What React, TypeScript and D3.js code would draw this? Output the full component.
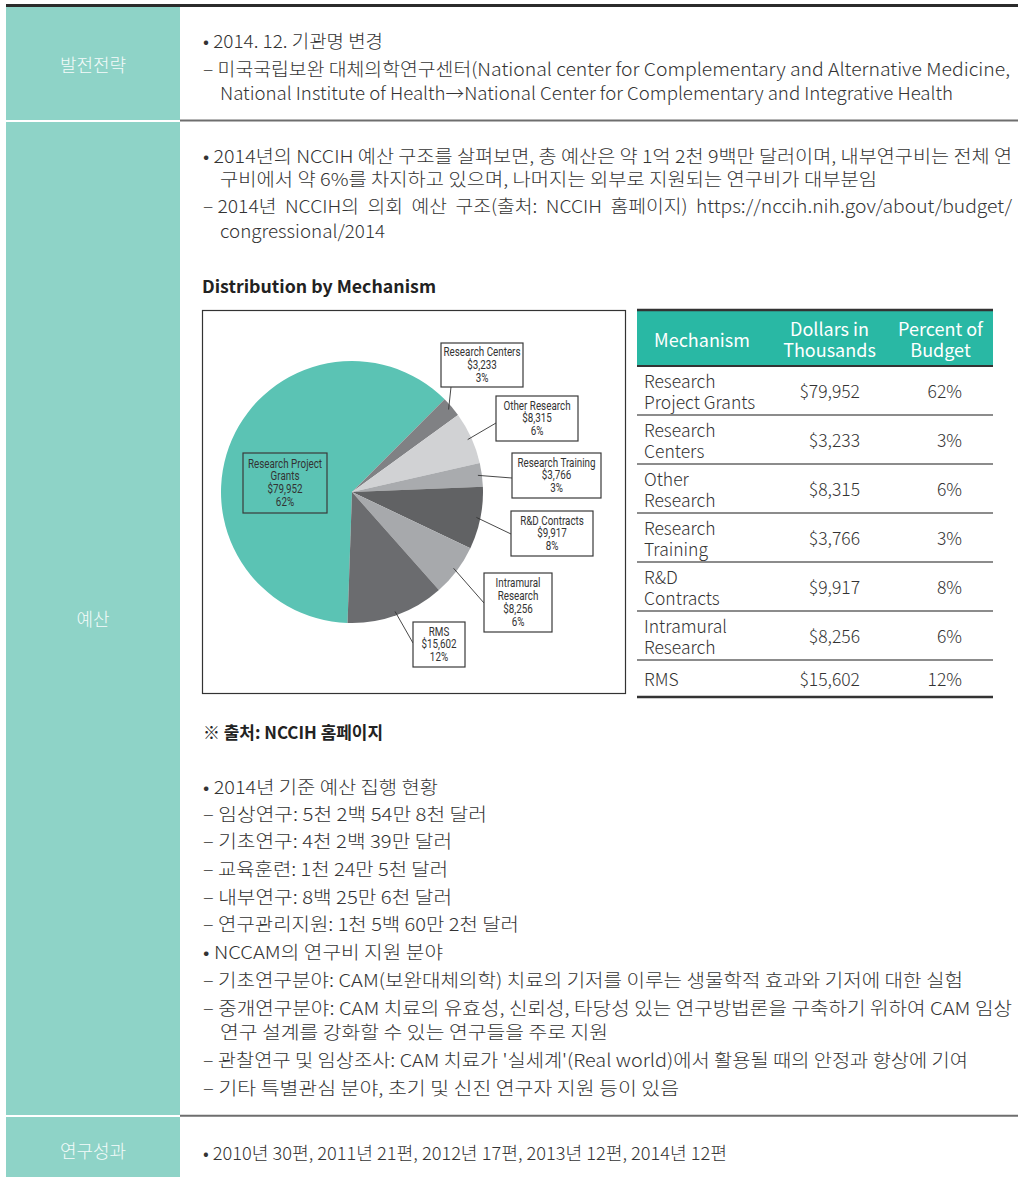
import React from "react";
import * as d3 from "d3";

// budget by mechanism (dollars in thousands)
const mechanisms = [
  "Research Project Grants",
  "Research Centers",
  "Other Research",
  "Research Training",
  "R&D Contracts",
  "Intramural Research",
  "RMS",
];
const dollars = [79952, 3233, 8315, 3766, 9917, 8256, 15602];
const percents = [62, 3, 6, 3, 8, 6, 12];
const tableLabels = [
  ["Research", "Project Grants"],
  ["Research", "Centers"],
  ["Other", "Research"],
  ["Research", "Training"],
  ["R&D", "Contracts"],
  ["Intramural", "Research"],
  ["RMS"],
];
const pieLabels = [
  ["Research Project", "Grants"],
  ["Research Centers"],
  ["Other Research"],
  ["Research Training"],
  ["R&D Contracts"],
  ["Intramural", "Research"],
  ["RMS"],
];
const sliceColors = ["#5bc3b4", "#808184", "#d1d2d4", "#a9abae", "#616264", "#a7a9ac", "#6b6c6f"];
const tableHeader = [["Mechanism"], ["Dollars in", "Thousands"], ["Percent of", "Budget"]];

// callout boxes (page coords); leader ends on the box edge
const callouts = [
  { x: 243, y: 453, w: 84, h: 60, ax: null, ay: null },
  { x: 441, y: 343, w: 82, h: 44, ax: 451, ay: 387 },
  { x: 496, y: 396, w: 82, h: 45, ax: 496, ay: 423 },
  { x: 512, y: 453, w: 89, h: 45, ax: 512, ay: 478 },
  { x: 511, y: 511, w: 82, h: 45, ax: 511, ay: 534 },
  { x: 484, y: 573, w: 68, h: 59, ax: 484, ay: 603 },
  { x: 413, y: 622, w: 52, h: 45, ax: 413, ay: 643 },
];

const sectionNames = ["발전전략", "예산", "연구성과"];

// text lines: [text, x, y-center, width, bold]
const bodyLines: [string, number, number, number, boolean][] = [
  ["• 2014. 12. 기관명 변경", 203, 40, 180, false],
  ["– 미국국립보완 대체의학연구센터(National center for Complementary and Alternative Medicine,", 203, 68, 807, false],
  ["National Institute of Health→National Center for Complementary and Integrative Health", 220, 92, 733, false],
  ["• 2014년의 NCCIH 예산 구조를 살펴보면, 총 예산은 약 1억 2천 9백만 달러이며, 내부연구비는 전체 연", 203, 155, 809, false],
  ["구비에서 약 6%를 차지하고 있으며, 나머지는 외부로 지원되는 연구비가 대부분임", 220, 178, 657, false],
  ["– 2014년  NCCIH의  의회  예산  구조(출처:  NCCIH  홈페이지)  https://nccih.nih.gov/about/budget/", 203, 205, 809, false],
  ["congressional/2014", 220, 230, 165, false],
  ["Distribution by Mechanism", 202, 285, 234, true],
  ["※ 출처: NCCIH 홈페이지", 203, 731, 180, true],
  ["• 2014년 기준 예산 집행 현황", 203, 786, 235, false],
  ["– 임상연구: 5천 2백 54만 8천 달러", 203, 813, 284, false],
  ["– 기초연구: 4천 2백 39만 달러", 203, 840, 249, false],
  ["– 교육훈련: 1천 24만 5천 달러", 203, 868, 245, false],
  ["– 내부연구: 8백 25만 6천 달러", 203, 896, 249, false],
  ["– 연구관리지원: 1천 5백 60만 2천 달러", 203, 923, 316, false],
  ["• NCCAM의 연구비 지원 분야", 203, 951, 240, false],
  ["– 기초연구분야: CAM(보완대체의학) 치료의 기저를 이루는 생물학적 효과와 기저에 대한 실험", 203, 979, 760, false],
  ["– 중개연구분야: CAM 치료의 유효성, 신뢰성, 타당성 있는 연구방법론을 구축하기 위하여 CAM 임상", 203, 1007, 809, false],
  ["연구 설계를 강화할 수 있는 연구들을 주로 지원", 220, 1031, 388, false],
  ["– 관찰연구 및 임상조사: CAM 치료가 '실세계'(Real world)에서 활용될 때의 안정과 향상에 기여", 203, 1059, 765, false],
  ["– 기타 특별관심 분야, 초기 및 신진 연구자 지원 등이 있음", 203, 1087, 476, false],
  ["• 2010년 30편, 2011년 21편, 2012년 17편, 2013년 12편, 2014년 12편", 203, 1152, 524, false],
];

const KR = "'Noto Sans CJK KR', 'Noto Sans', sans-serif";
const COND = "Roboto, 'Liberation Sans', sans-serif";

const PieChart = () => {
  const cx = 352, cy = 492, r = 131;
  const total = d3.sum(dollars);
  const start = Math.PI / 4 - (2 * Math.PI * dollars[0]) / total;
  const pie = d3.pie<number>().sort(null).startAngle(start).endAngle(start + 2 * Math.PI);
  const arcs = pie(dollars);
  const arc = d3.arc<d3.PieArcDatum<number>>().innerRadius(0).outerRadius(r);
  const fmt = d3.format("$,");
  return (
    <g>
      <rect x={202.5} y={310.5} width={423} height={383} fill="none" stroke="#333" strokeWidth={1.2} />
      <g transform={`translate(${cx},${cy})`}>
        {arcs.map((a, i) => (
          <path key={i} d={arc(a) || ""} fill={sliceColors[i]} />
        ))}
      </g>
      {arcs.map((a, i) => {
        const c = callouts[i];
        const mid = (a.startAngle + a.endAngle) / 2;
        const sx = cx + Math.sin(mid) * (r - 4);
        const sy = cy - Math.cos(mid) * (r - 4);
        const lines = [...pieLabels[i], fmt(dollars[i]), `${percents[i]}%`];
        const lh = 12.8;
        const y0 = c.y + c.h / 2 - ((lines.length - 1) * lh) / 2;
        return (
          <g key={i}>
            {c.ax !== null && (
              <line x1={sx} y1={sy} x2={c.ax} y2={c.ay!} stroke="#333" strokeWidth={0.9} />
            )}
            <rect x={c.x} y={c.y} width={c.w} height={c.h} fill={i === 0 ? sliceColors[0] : "#fff"} stroke="#3a3a3a" strokeWidth={1.2} />
            {lines.map((t, k) => (
              <text key={k} transform={`translate(${c.x + c.w / 2},${y0 + k * lh}) scale(0.82,1)`}
                textAnchor="middle" dominantBaseline="central"
                fontFamily={COND} fontSize={12} fill="#333">{t}</text>
            ))}
          </g>
        );
      })}
    </g>
  );
};

const BudgetTable = () => {
  const x0 = 637, x1 = 767, x2 = 890, x3 = 993;
  const top = 311, headH = 55;
  const rowH = tableLabels.map((l) => (l.length > 1 ? 49 : 37));
  const ys = d3.cumsum([top + headH, ...rowH]);
  const fmt = d3.format("$,");
  const headCx = [(x0 + x1) / 2, (x1 + x2) / 2 + 1, (x2 + x3) / 2 - 1];
  return (
    <g fontFamily={KR}>
      <rect x={x0} y={top} width={x3 - x0} height={headH} fill="#29b8a4" />
      <line x1={x0} x2={x3} y1={top - 1} y2={top - 1} stroke="#333" strokeWidth={2.5} />
      {tableHeader.map((h, i) =>
        h.map((t, k) => (
          <text key={`${i}-${k}`} x={headCx[i]} y={top + headH / 2 + (k - (h.length - 1) / 2) * 21}
            textAnchor="middle" dominantBaseline="central" fill="#fff" fontSize={18}>{t}</text>
        ))
      )}
      {mechanisms.map((m, i) => {
        const yTop = ys[i];
        const yMid = yTop + rowH[i] / 2;
        const lab = tableLabels[i];
        return (
          <g key={m}>
            <line x1={x0} x2={x3} y1={yTop} y2={yTop} stroke={i === 0 ? "#333" : "#666"} strokeWidth={i === 0 ? 2 : 1.5} />
            {lab.map((t, k) => (
              <text key={k} x={644} y={yMid + (k - (lab.length - 1) / 2) * 21} dominantBaseline="central"
                fontSize={17.5} fontWeight={300} fill="#333">{t}</text>
            ))}
            <text x={860} y={yMid} textAnchor="end" dominantBaseline="central" fontSize={17.5} fontWeight={300} fill="#333">
              {fmt(dollars[i])}
            </text>
            <text x={962} y={yMid} textAnchor="end" dominantBaseline="central" fontSize={17.5} fontWeight={300} fill="#333">
              {`${percents[i]}%`}
            </text>
          </g>
        );
      })}
      <line x1={x0} x2={x3} y1={ys[ys.length - 1]} y2={ys[ys.length - 1]} stroke="#333" strokeWidth={2.5} />
    </g>
  );
};

export default function App() {
  const W = 1018, H = 1177;
  const teal = "#8ed3c7";
  const rows = [
    { y0: 7, y1: 120 },
    { y0: 122, y1: 1115 },
    { y0: 1117, y1: 1177 },
  ];
  const labelY = [64, 618, 1150];
  return (
    <div style={{ position: "absolute", left: 0, top: 0 }}>
      <svg width={W} height={H} style={{ display: "block", background: "#fff" }}>
        {rows.map((r, i) => (
          <rect key={i} x={6} y={r.y0} width={174} height={r.y1 - r.y0} fill={teal} />
        ))}
        <rect x={6} y={4} width={W - 6} height={3} fill="#2b2b2b" />
        <line x1={180} x2={W} y1={120.5} y2={120.5} stroke="#6e6e6e" strokeWidth={2} />
        <line x1={180} x2={W} y1={1115.8} y2={1115.8} stroke="#6e6e6e" strokeWidth={2} />
        {sectionNames.map((s, i) => (
          <text key={s} x={93} y={labelY[i]} textAnchor="middle" dominantBaseline="central"
            fontFamily={KR} fontSize={18} fontWeight={300} fill="#f4fbfa">{s}</text>
        ))}
        {bodyLines.map(([t, x, y, w, bold], i) => (
          <text key={i} x={x} y={y} dominantBaseline="central" fontFamily={KR}
            fontSize={bold ? 17 : 18} fontWeight={bold ? 700 : 300} fill={bold ? "#222" : "#333"}
            textLength={w} lengthAdjust="spacingAndGlyphs" style={{ whiteSpace: "pre" }}>{t}</text>
        ))}
        <PieChart />
        <BudgetTable />
      </svg>
    </div>
  );
}
